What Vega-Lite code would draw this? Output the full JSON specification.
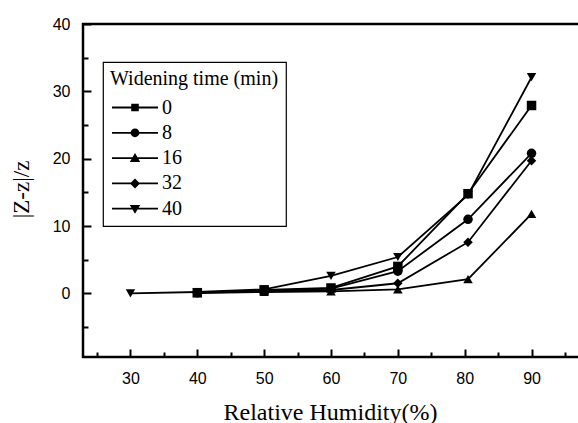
{
  "$schema": "https://vega.github.io/schema/vega-lite/v6.json",
  "width": 500,
  "height": 333,
  "autosize": {"type": "none"},
  "padding": {"left": 83, "top": 24, "right": 0, "bottom": 66},
  "background": "white",
  "config": {
    "font": "Liberation Serif",
    "view": {"stroke": "black", "strokeWidth": 2.5},
    "axis": {
      "domain": false,
      "grid": false,
      "tickColor": "black",
      "tickWidth": 2,
      "labelColor": "black",
      "labelFont": "Liberation Sans",
      "labelFontSize": 16,
      "titleColor": "black",
      "titleFont": "Liberation Serif",
      "titleFontWeight": "normal"
    },
    "legend": {
      "titleFont": "Liberation Serif",
      "titleFontSize": 20,
      "titleFontWeight": "normal",
      "titleColor": "black",
      "labelFont": "Liberation Serif",
      "labelFontSize": 20,
      "labelColor": "black",
      "padding": 7,
      "strokeColor": "black",
      "strokeWidth": 1.2,
      "symbolSize": 400,
      "symbolOffset": 15,
      "labelOffset": 17,
      "rowPadding": 5.3,
      "titlePadding": 8.5,
      "symbolStrokeWidth": 0,
      "symbolFillColor": "black",
      "symbolOpacity": 1
    }
  },
  "data": {
    "values": [
      {"rh": 40, "t": "0", "v": 0.1},
      {"rh": 50, "t": "0", "v": 0.5},
      {"rh": 60, "t": "0", "v": 0.8},
      {"rh": 70, "t": "0", "v": 4.0},
      {"rh": 80.5, "t": "0", "v": 14.8},
      {"rh": 90, "t": "0", "v": 27.9},
      {"rh": 40, "t": "8", "v": 0.1},
      {"rh": 50, "t": "8", "v": 0.4},
      {"rh": 60, "t": "8", "v": 0.7},
      {"rh": 70, "t": "8", "v": 3.3},
      {"rh": 80.5, "t": "8", "v": 11.0},
      {"rh": 90, "t": "8", "v": 20.8},
      {"rh": 40, "t": "16", "v": 0.05},
      {"rh": 50, "t": "16", "v": 0.2},
      {"rh": 60, "t": "16", "v": 0.3},
      {"rh": 70, "t": "16", "v": 0.6},
      {"rh": 80.5, "t": "16", "v": 2.1},
      {"rh": 90, "t": "16", "v": 11.8},
      {"rh": 40, "t": "32", "v": 0.1},
      {"rh": 50, "t": "32", "v": 0.3},
      {"rh": 60, "t": "32", "v": 0.5},
      {"rh": 70, "t": "32", "v": 1.5},
      {"rh": 80.5, "t": "32", "v": 7.6},
      {"rh": 90, "t": "32", "v": 19.7},
      {"rh": 30, "t": "40", "v": 0},
      {"rh": 40, "t": "40", "v": 0.2},
      {"rh": 50, "t": "40", "v": 0.6},
      {"rh": 60, "t": "40", "v": 2.6},
      {"rh": 70, "t": "40", "v": 5.4},
      {"rh": 80.5, "t": "40", "v": 14.6},
      {"rh": 90, "t": "40", "v": 32.1}
    ]
  },
  "layer": [
    {
      "mark": {"type": "line", "color": "black", "strokeWidth": 1.8},
      "encoding": {
        "x": {
          "field": "rh", "type": "quantitative",
          "scale": {"domain": [22.9, 97.7], "nice": false, "zero": false},
          "axis": {
            "orient": "bottom", "values": [30, 40, 50, 60, 70, 80, 90],
            "tickSize": -8, "labelPadding": 21,
            "labelFont": "Liberation Sans",
            "title": "Relative Humidity(%)", "titleFont": "Liberation Serif", "titleFontSize": 24,
            "titleX": 247, "titleY": 62, "titleBaseline": "alphabetic", "titleAlign": "center"
          }
        },
        "y": {
          "field": "v", "type": "quantitative",
          "scale": {"domain": [-9.45, 40], "nice": false, "zero": false},
          "axis": {
            "orient": "left", "values": [0, 10, 20, 30, 40],
            "tickSize": -8, "labelPadding": 21,
            "labelFont": "Liberation Sans",
            "title": "|Z-z|/z", "titleFont": "Liberation Serif", "titleFontSize": 23,
            "titleX": -62, "titleY": 165, "titleBaseline": "middle", "titleAlign": "center", "titleAngle": -90
          }
        },
        "detail": {"field": "t", "type": "nominal"}
      }
    },
    {
      "mark": {"type": "point", "filled": true, "color": "black", "size": 90, "opacity": 1},
      "encoding": {
        "x": {
          "field": "rh", "type": "quantitative",
          "axis": {"orient": "bottom", "values": [25, 35, 45, 55, 65, 75, 85, 95], "tickSize": -5, "labels": false, "title": null}
        },
        "y": {
          "field": "v", "type": "quantitative",
          "axis": {"orient": "left", "values": [-5, 5, 15, 25, 35], "tickSize": -5, "labels": false, "title": null}
        },
        "shape": {
          "field": "t", "type": "nominal",
          "scale": {"domain": ["0", "8", "16", "32", "40"], "range": ["square", "circle", "triangle-up", "diamond", "triangle-down"]},
          "legend": null
        }
      }
    },
    {
      "mark": {"type": "point", "filled": true, "color": "black", "opacity": 0},
      "encoding": {
        "x": {"field": "rh", "type": "quantitative", "axis": null},
        "y": {"field": "v", "type": "quantitative", "axis": null},
        "shape": {
          "field": "t", "type": "nominal",
          "scale": {
            "domain": ["0", "8", "16", "32", "40"],
            "range": [
              "M-2.3,-0.09H-0.3V0.09H-2.3ZM0.3,-0.09H2.3V0.09H0.3ZM-0.38,-0.38H0.38V0.38H-0.38Z",
              "M-2.3,-0.09H-0.3V0.09H-2.3ZM0.3,-0.09H2.3V0.09H0.3ZM-0.44,0A0.44,0.44,0,1,1,0.44,0A0.44,0.44,0,1,1,-0.44,0Z",
              "M-2.3,-0.09H-0.2V0.09H-2.3ZM0.2,-0.09H2.3V0.09H0.2ZM0,-0.5L0.52,0.38L-0.52,0.38Z",
              "M-2.3,-0.09H-0.3V0.09H-2.3ZM0.3,-0.09H2.3V0.09H0.3ZM0,-0.5L0.5,0L0,0.5L-0.5,0Z",
              "M-2.3,-0.09H-0.2V0.09H-2.3ZM0.2,-0.09H2.3V0.09H0.2ZM0,0.5L-0.52,-0.38L0.52,-0.38Z"
            ]
          },
          "legend": {
            "title": "Widening time (min)",
            "titleFont": "Liberation Serif",
            "labelFont": "Liberation Serif",
            "orient": "none",
            "legendX": 20,
            "legendY": 38,
            "encode": {
              "symbols": {
                "update": {
                  "fill": {"value": "black"},
                  "opacity": {"value": 1},
                  "size": {"value": 400}
                }
              }
            }
          }
        }
      }
    }
  ],
  "resolve": {
    "axis": {"x": "independent", "y": "independent"},
    "scale": {"shape": "independent"}
  }
}
